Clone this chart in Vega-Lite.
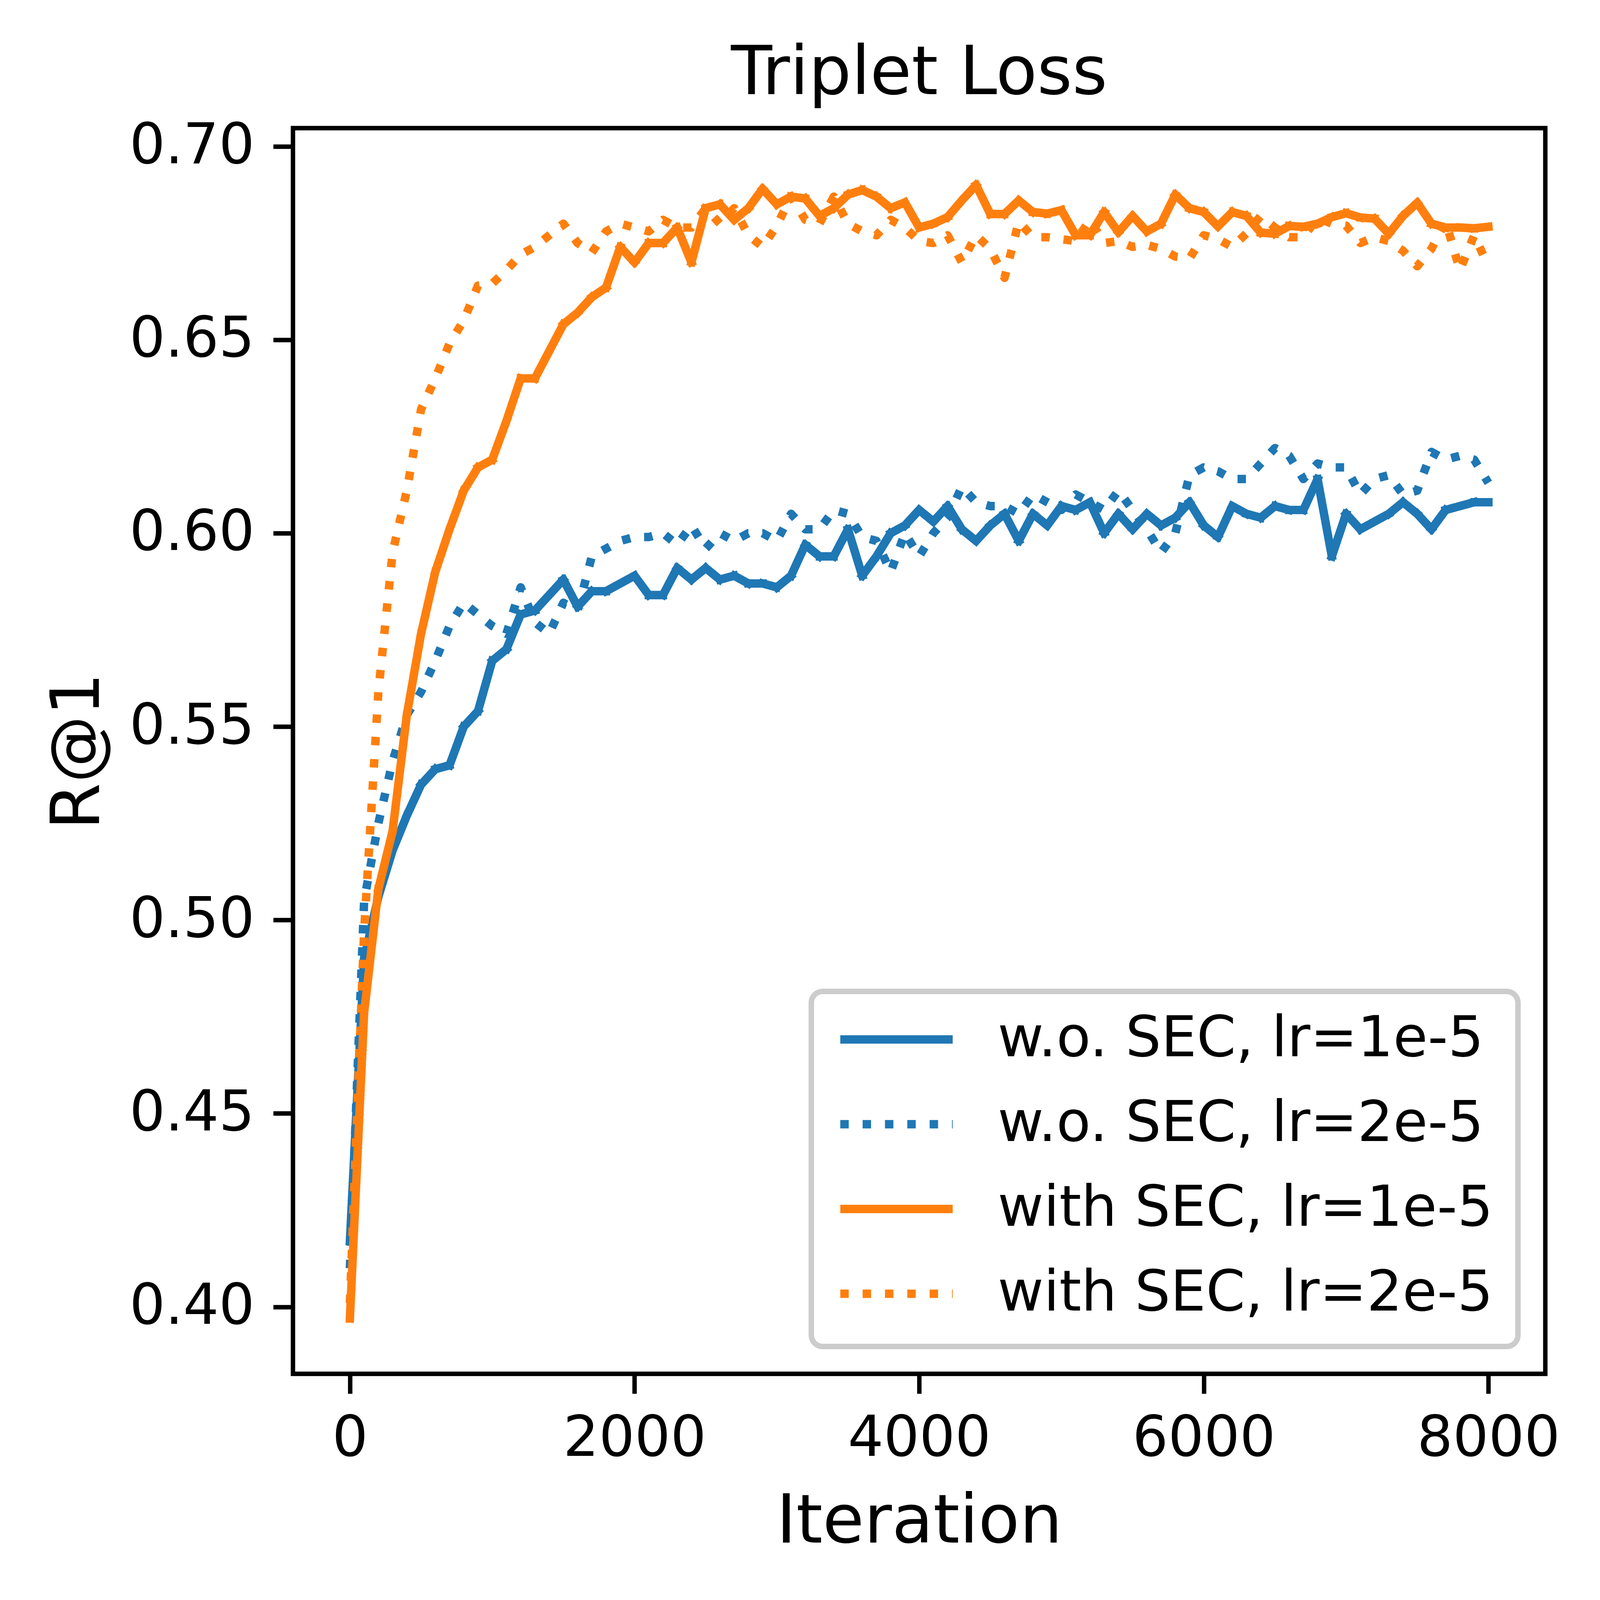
{
  "$schema": "https://vega.github.io/schema/vega-lite/v6.json",
  "description": "Triplet Loss: R@1 against iteration, with and without SEC",
  "autosize": {"type": "none"},
  "width": 3206,
  "height": 3189,
  "padding": {"left": 750, "top": 328, "right": 140, "bottom": 579},
  "background": "white",
  "title": {
    "text": "Triplet Loss",
    "font": "DejaVu Sans",
    "fontSize": 172.6,
    "fontWeight": "normal",
    "color": "black",
    "anchor": "middle",
    "frame": "group",
    "baseline": "alphabetic",
    "offset": -111
  },
  "config": {
    "view": {"stroke": "black", "strokeWidth": 11.3},
    "axis": {
      "grid": false,
      "domain": false,
      "ticks": true,
      "tickColor": "black",
      "tickWidth": 11.3,
      "tickSize": 50.6,
      "labelFont": "DejaVu Sans",
      "labelFontSize": 143.9,
      "labelColor": "black",
      "labelLimit": 2000,
      "titleFont": "DejaVu Sans",
      "titleFontSize": 172.6,
      "titleFontWeight": "normal",
      "titleColor": "black",
      "titleLimit": 3000
    },
    "legend": {
      "orient": "bottom-right",
      "offset": 70,
      "padding": 63,
      "fillColor": "white",
      "strokeColor": "#cccccc",
      "strokeWidth": 14,
      "cornerRadius": 29,
      "symbolType": "stroke",
      "symbolSize": 82775,
      "symbolStrokeWidth": 21.58,
      "symbolOffset": 0,
      "labelFont": "DejaVu Sans",
      "labelFontSize": 143.9,
      "labelColor": "black",
      "labelOffset": 104,
      "labelLimit": 3000,
      "clipHeight": 120,
      "rowPadding": 73
    }
  },
  "data": {
    "values": [
      {"it": 0, "series": "w.o. SEC, lr=1e-5", "r1": 0.417},
      {"it": 100, "series": "w.o. SEC, lr=1e-5", "r1": 0.490},
      {"it": 200, "series": "w.o. SEC, lr=1e-5", "r1": 0.506},
      {"it": 300, "series": "w.o. SEC, lr=1e-5", "r1": 0.518},
      {"it": 400, "series": "w.o. SEC, lr=1e-5", "r1": 0.527},
      {"it": 500, "series": "w.o. SEC, lr=1e-5", "r1": 0.535},
      {"it": 600, "series": "w.o. SEC, lr=1e-5", "r1": 0.539},
      {"it": 700, "series": "w.o. SEC, lr=1e-5", "r1": 0.540},
      {"it": 800, "series": "w.o. SEC, lr=1e-5", "r1": 0.550},
      {"it": 900, "series": "w.o. SEC, lr=1e-5", "r1": 0.554},
      {"it": 1000, "series": "w.o. SEC, lr=1e-5", "r1": 0.567},
      {"it": 1100, "series": "w.o. SEC, lr=1e-5", "r1": 0.570},
      {"it": 1200, "series": "w.o. SEC, lr=1e-5", "r1": 0.579},
      {"it": 1300, "series": "w.o. SEC, lr=1e-5", "r1": 0.580},
      {"it": 1400, "series": "w.o. SEC, lr=1e-5", "r1": 0.584},
      {"it": 1500, "series": "w.o. SEC, lr=1e-5", "r1": 0.588},
      {"it": 1600, "series": "w.o. SEC, lr=1e-5", "r1": 0.581},
      {"it": 1700, "series": "w.o. SEC, lr=1e-5", "r1": 0.585},
      {"it": 1800, "series": "w.o. SEC, lr=1e-5", "r1": 0.585},
      {"it": 1900, "series": "w.o. SEC, lr=1e-5", "r1": 0.587},
      {"it": 2000, "series": "w.o. SEC, lr=1e-5", "r1": 0.589},
      {"it": 2100, "series": "w.o. SEC, lr=1e-5", "r1": 0.584},
      {"it": 2200, "series": "w.o. SEC, lr=1e-5", "r1": 0.584},
      {"it": 2300, "series": "w.o. SEC, lr=1e-5", "r1": 0.591},
      {"it": 2400, "series": "w.o. SEC, lr=1e-5", "r1": 0.588},
      {"it": 2500, "series": "w.o. SEC, lr=1e-5", "r1": 0.591},
      {"it": 2600, "series": "w.o. SEC, lr=1e-5", "r1": 0.588},
      {"it": 2700, "series": "w.o. SEC, lr=1e-5", "r1": 0.589},
      {"it": 2800, "series": "w.o. SEC, lr=1e-5", "r1": 0.587},
      {"it": 2900, "series": "w.o. SEC, lr=1e-5", "r1": 0.587},
      {"it": 3000, "series": "w.o. SEC, lr=1e-5", "r1": 0.586},
      {"it": 3100, "series": "w.o. SEC, lr=1e-5", "r1": 0.589},
      {"it": 3200, "series": "w.o. SEC, lr=1e-5", "r1": 0.597},
      {"it": 3300, "series": "w.o. SEC, lr=1e-5", "r1": 0.594},
      {"it": 3400, "series": "w.o. SEC, lr=1e-5", "r1": 0.594},
      {"it": 3500, "series": "w.o. SEC, lr=1e-5", "r1": 0.601},
      {"it": 3600, "series": "w.o. SEC, lr=1e-5", "r1": 0.589},
      {"it": 3700, "series": "w.o. SEC, lr=1e-5", "r1": 0.594},
      {"it": 3800, "series": "w.o. SEC, lr=1e-5", "r1": 0.600},
      {"it": 3900, "series": "w.o. SEC, lr=1e-5", "r1": 0.602},
      {"it": 4000, "series": "w.o. SEC, lr=1e-5", "r1": 0.606},
      {"it": 4100, "series": "w.o. SEC, lr=1e-5", "r1": 0.603},
      {"it": 4200, "series": "w.o. SEC, lr=1e-5", "r1": 0.607},
      {"it": 4300, "series": "w.o. SEC, lr=1e-5", "r1": 0.601},
      {"it": 4400, "series": "w.o. SEC, lr=1e-5", "r1": 0.598},
      {"it": 4500, "series": "w.o. SEC, lr=1e-5", "r1": 0.602},
      {"it": 4600, "series": "w.o. SEC, lr=1e-5", "r1": 0.605},
      {"it": 4700, "series": "w.o. SEC, lr=1e-5", "r1": 0.598},
      {"it": 4800, "series": "w.o. SEC, lr=1e-5", "r1": 0.605},
      {"it": 4900, "series": "w.o. SEC, lr=1e-5", "r1": 0.602},
      {"it": 5000, "series": "w.o. SEC, lr=1e-5", "r1": 0.607},
      {"it": 5100, "series": "w.o. SEC, lr=1e-5", "r1": 0.606},
      {"it": 5200, "series": "w.o. SEC, lr=1e-5", "r1": 0.608},
      {"it": 5300, "series": "w.o. SEC, lr=1e-5", "r1": 0.600},
      {"it": 5400, "series": "w.o. SEC, lr=1e-5", "r1": 0.605},
      {"it": 5500, "series": "w.o. SEC, lr=1e-5", "r1": 0.601},
      {"it": 5600, "series": "w.o. SEC, lr=1e-5", "r1": 0.605},
      {"it": 5700, "series": "w.o. SEC, lr=1e-5", "r1": 0.602},
      {"it": 5800, "series": "w.o. SEC, lr=1e-5", "r1": 0.604},
      {"it": 5900, "series": "w.o. SEC, lr=1e-5", "r1": 0.608},
      {"it": 6000, "series": "w.o. SEC, lr=1e-5", "r1": 0.602},
      {"it": 6100, "series": "w.o. SEC, lr=1e-5", "r1": 0.599},
      {"it": 6200, "series": "w.o. SEC, lr=1e-5", "r1": 0.607},
      {"it": 6300, "series": "w.o. SEC, lr=1e-5", "r1": 0.605},
      {"it": 6400, "series": "w.o. SEC, lr=1e-5", "r1": 0.604},
      {"it": 6500, "series": "w.o. SEC, lr=1e-5", "r1": 0.607},
      {"it": 6600, "series": "w.o. SEC, lr=1e-5", "r1": 0.606},
      {"it": 6700, "series": "w.o. SEC, lr=1e-5", "r1": 0.606},
      {"it": 6800, "series": "w.o. SEC, lr=1e-5", "r1": 0.614},
      {"it": 6900, "series": "w.o. SEC, lr=1e-5", "r1": 0.594},
      {"it": 7000, "series": "w.o. SEC, lr=1e-5", "r1": 0.605},
      {"it": 7100, "series": "w.o. SEC, lr=1e-5", "r1": 0.601},
      {"it": 7200, "series": "w.o. SEC, lr=1e-5", "r1": 0.603},
      {"it": 7300, "series": "w.o. SEC, lr=1e-5", "r1": 0.605},
      {"it": 7400, "series": "w.o. SEC, lr=1e-5", "r1": 0.608},
      {"it": 7500, "series": "w.o. SEC, lr=1e-5", "r1": 0.605},
      {"it": 7600, "series": "w.o. SEC, lr=1e-5", "r1": 0.601},
      {"it": 7700, "series": "w.o. SEC, lr=1e-5", "r1": 0.606},
      {"it": 7800, "series": "w.o. SEC, lr=1e-5", "r1": 0.607},
      {"it": 7900, "series": "w.o. SEC, lr=1e-5", "r1": 0.608},
      {"it": 8000, "series": "w.o. SEC, lr=1e-5", "r1": 0.608},

      {"it": 0, "series": "w.o. SEC, lr=2e-5", "r1": 0.410},
      {"it": 100, "series": "w.o. SEC, lr=2e-5", "r1": 0.505},
      {"it": 200, "series": "w.o. SEC, lr=2e-5", "r1": 0.525},
      {"it": 300, "series": "w.o. SEC, lr=2e-5", "r1": 0.541},
      {"it": 400, "series": "w.o. SEC, lr=2e-5", "r1": 0.553},
      {"it": 500, "series": "w.o. SEC, lr=2e-5", "r1": 0.559},
      {"it": 600, "series": "w.o. SEC, lr=2e-5", "r1": 0.567},
      {"it": 700, "series": "w.o. SEC, lr=2e-5", "r1": 0.576},
      {"it": 800, "series": "w.o. SEC, lr=2e-5", "r1": 0.582},
      {"it": 900, "series": "w.o. SEC, lr=2e-5", "r1": 0.579},
      {"it": 1000, "series": "w.o. SEC, lr=2e-5", "r1": 0.576},
      {"it": 1100, "series": "w.o. SEC, lr=2e-5", "r1": 0.574},
      {"it": 1200, "series": "w.o. SEC, lr=2e-5", "r1": 0.586},
      {"it": 1300, "series": "w.o. SEC, lr=2e-5", "r1": 0.577},
      {"it": 1400, "series": "w.o. SEC, lr=2e-5", "r1": 0.574},
      {"it": 1500, "series": "w.o. SEC, lr=2e-5", "r1": 0.582},
      {"it": 1600, "series": "w.o. SEC, lr=2e-5", "r1": 0.580},
      {"it": 1700, "series": "w.o. SEC, lr=2e-5", "r1": 0.594},
      {"it": 1800, "series": "w.o. SEC, lr=2e-5", "r1": 0.596},
      {"it": 1900, "series": "w.o. SEC, lr=2e-5", "r1": 0.598},
      {"it": 2000, "series": "w.o. SEC, lr=2e-5", "r1": 0.599},
      {"it": 2100, "series": "w.o. SEC, lr=2e-5", "r1": 0.599},
      {"it": 2200, "series": "w.o. SEC, lr=2e-5", "r1": 0.600},
      {"it": 2300, "series": "w.o. SEC, lr=2e-5", "r1": 0.597},
      {"it": 2400, "series": "w.o. SEC, lr=2e-5", "r1": 0.602},
      {"it": 2500, "series": "w.o. SEC, lr=2e-5", "r1": 0.596},
      {"it": 2600, "series": "w.o. SEC, lr=2e-5", "r1": 0.600},
      {"it": 2700, "series": "w.o. SEC, lr=2e-5", "r1": 0.598},
      {"it": 2800, "series": "w.o. SEC, lr=2e-5", "r1": 0.600},
      {"it": 2900, "series": "w.o. SEC, lr=2e-5", "r1": 0.600},
      {"it": 3000, "series": "w.o. SEC, lr=2e-5", "r1": 0.598},
      {"it": 3100, "series": "w.o. SEC, lr=2e-5", "r1": 0.605},
      {"it": 3200, "series": "w.o. SEC, lr=2e-5", "r1": 0.601},
      {"it": 3300, "series": "w.o. SEC, lr=2e-5", "r1": 0.601},
      {"it": 3400, "series": "w.o. SEC, lr=2e-5", "r1": 0.606},
      {"it": 3500, "series": "w.o. SEC, lr=2e-5", "r1": 0.605},
      {"it": 3600, "series": "w.o. SEC, lr=2e-5", "r1": 0.599},
      {"it": 3700, "series": "w.o. SEC, lr=2e-5", "r1": 0.598},
      {"it": 3800, "series": "w.o. SEC, lr=2e-5", "r1": 0.590},
      {"it": 3900, "series": "w.o. SEC, lr=2e-5", "r1": 0.600},
      {"it": 4000, "series": "w.o. SEC, lr=2e-5", "r1": 0.594},
      {"it": 4100, "series": "w.o. SEC, lr=2e-5", "r1": 0.600},
      {"it": 4200, "series": "w.o. SEC, lr=2e-5", "r1": 0.604},
      {"it": 4300, "series": "w.o. SEC, lr=2e-5", "r1": 0.612},
      {"it": 4400, "series": "w.o. SEC, lr=2e-5", "r1": 0.608},
      {"it": 4500, "series": "w.o. SEC, lr=2e-5", "r1": 0.607},
      {"it": 4600, "series": "w.o. SEC, lr=2e-5", "r1": 0.607},
      {"it": 4700, "series": "w.o. SEC, lr=2e-5", "r1": 0.605},
      {"it": 4800, "series": "w.o. SEC, lr=2e-5", "r1": 0.610},
      {"it": 4900, "series": "w.o. SEC, lr=2e-5", "r1": 0.608},
      {"it": 5000, "series": "w.o. SEC, lr=2e-5", "r1": 0.606},
      {"it": 5100, "series": "w.o. SEC, lr=2e-5", "r1": 0.610},
      {"it": 5200, "series": "w.o. SEC, lr=2e-5", "r1": 0.608},
      {"it": 5300, "series": "w.o. SEC, lr=2e-5", "r1": 0.606},
      {"it": 5400, "series": "w.o. SEC, lr=2e-5", "r1": 0.611},
      {"it": 5500, "series": "w.o. SEC, lr=2e-5", "r1": 0.606},
      {"it": 5600, "series": "w.o. SEC, lr=2e-5", "r1": 0.601},
      {"it": 5700, "series": "w.o. SEC, lr=2e-5", "r1": 0.595},
      {"it": 5800, "series": "w.o. SEC, lr=2e-5", "r1": 0.600},
      {"it": 5900, "series": "w.o. SEC, lr=2e-5", "r1": 0.615},
      {"it": 6000, "series": "w.o. SEC, lr=2e-5", "r1": 0.617},
      {"it": 6100, "series": "w.o. SEC, lr=2e-5", "r1": 0.616},
      {"it": 6200, "series": "w.o. SEC, lr=2e-5", "r1": 0.614},
      {"it": 6300, "series": "w.o. SEC, lr=2e-5", "r1": 0.614},
      {"it": 6400, "series": "w.o. SEC, lr=2e-5", "r1": 0.618},
      {"it": 6500, "series": "w.o. SEC, lr=2e-5", "r1": 0.622},
      {"it": 6600, "series": "w.o. SEC, lr=2e-5", "r1": 0.620},
      {"it": 6700, "series": "w.o. SEC, lr=2e-5", "r1": 0.614},
      {"it": 6800, "series": "w.o. SEC, lr=2e-5", "r1": 0.618},
      {"it": 6900, "series": "w.o. SEC, lr=2e-5", "r1": 0.617},
      {"it": 7000, "series": "w.o. SEC, lr=2e-5", "r1": 0.617},
      {"it": 7100, "series": "w.o. SEC, lr=2e-5", "r1": 0.610},
      {"it": 7200, "series": "w.o. SEC, lr=2e-5", "r1": 0.614},
      {"it": 7300, "series": "w.o. SEC, lr=2e-5", "r1": 0.615},
      {"it": 7400, "series": "w.o. SEC, lr=2e-5", "r1": 0.610},
      {"it": 7500, "series": "w.o. SEC, lr=2e-5", "r1": 0.611},
      {"it": 7600, "series": "w.o. SEC, lr=2e-5", "r1": 0.621},
      {"it": 7700, "series": "w.o. SEC, lr=2e-5", "r1": 0.619},
      {"it": 7800, "series": "w.o. SEC, lr=2e-5", "r1": 0.620},
      {"it": 7900, "series": "w.o. SEC, lr=2e-5", "r1": 0.619},
      {"it": 8000, "series": "w.o. SEC, lr=2e-5", "r1": 0.613},

      {"it": 0, "series": "with SEC, lr=1e-5", "r1": 0.397},
      {"it": 100, "series": "with SEC, lr=1e-5", "r1": 0.476},
      {"it": 200, "series": "with SEC, lr=1e-5", "r1": 0.508},
      {"it": 300, "series": "with SEC, lr=1e-5", "r1": 0.523},
      {"it": 400, "series": "with SEC, lr=1e-5", "r1": 0.553},
      {"it": 500, "series": "with SEC, lr=1e-5", "r1": 0.574},
      {"it": 600, "series": "with SEC, lr=1e-5", "r1": 0.590},
      {"it": 700, "series": "with SEC, lr=1e-5", "r1": 0.601},
      {"it": 800, "series": "with SEC, lr=1e-5", "r1": 0.611},
      {"it": 900, "series": "with SEC, lr=1e-5", "r1": 0.617},
      {"it": 1000, "series": "with SEC, lr=1e-5", "r1": 0.619},
      {"it": 1100, "series": "with SEC, lr=1e-5", "r1": 0.629},
      {"it": 1200, "series": "with SEC, lr=1e-5", "r1": 0.640},
      {"it": 1300, "series": "with SEC, lr=1e-5", "r1": 0.640},
      {"it": 1400, "series": "with SEC, lr=1e-5", "r1": 0.647},
      {"it": 1500, "series": "with SEC, lr=1e-5", "r1": 0.654},
      {"it": 1600, "series": "with SEC, lr=1e-5", "r1": 0.657},
      {"it": 1700, "series": "with SEC, lr=1e-5", "r1": 0.661},
      {"it": 1800, "series": "with SEC, lr=1e-5", "r1": 0.6635},
      {"it": 1900, "series": "with SEC, lr=1e-5", "r1": 0.674},
      {"it": 2000, "series": "with SEC, lr=1e-5", "r1": 0.670},
      {"it": 2100, "series": "with SEC, lr=1e-5", "r1": 0.675},
      {"it": 2200, "series": "with SEC, lr=1e-5", "r1": 0.675},
      {"it": 2300, "series": "with SEC, lr=1e-5", "r1": 0.679},
      {"it": 2400, "series": "with SEC, lr=1e-5", "r1": 0.670},
      {"it": 2500, "series": "with SEC, lr=1e-5", "r1": 0.684},
      {"it": 2600, "series": "with SEC, lr=1e-5", "r1": 0.685},
      {"it": 2700, "series": "with SEC, lr=1e-5", "r1": 0.681},
      {"it": 2800, "series": "with SEC, lr=1e-5", "r1": 0.684},
      {"it": 2900, "series": "with SEC, lr=1e-5", "r1": 0.689},
      {"it": 3000, "series": "with SEC, lr=1e-5", "r1": 0.685},
      {"it": 3100, "series": "with SEC, lr=1e-5", "r1": 0.687},
      {"it": 3200, "series": "with SEC, lr=1e-5", "r1": 0.6865},
      {"it": 3300, "series": "with SEC, lr=1e-5", "r1": 0.682},
      {"it": 3400, "series": "with SEC, lr=1e-5", "r1": 0.684},
      {"it": 3500, "series": "with SEC, lr=1e-5", "r1": 0.6875},
      {"it": 3600, "series": "with SEC, lr=1e-5", "r1": 0.6887},
      {"it": 3700, "series": "with SEC, lr=1e-5", "r1": 0.687},
      {"it": 3800, "series": "with SEC, lr=1e-5", "r1": 0.684},
      {"it": 3900, "series": "with SEC, lr=1e-5", "r1": 0.6855},
      {"it": 4000, "series": "with SEC, lr=1e-5", "r1": 0.679},
      {"it": 4100, "series": "with SEC, lr=1e-5", "r1": 0.680},
      {"it": 4200, "series": "with SEC, lr=1e-5", "r1": 0.6817},
      {"it": 4300, "series": "with SEC, lr=1e-5", "r1": 0.686},
      {"it": 4400, "series": "with SEC, lr=1e-5", "r1": 0.690},
      {"it": 4500, "series": "with SEC, lr=1e-5", "r1": 0.6825},
      {"it": 4600, "series": "with SEC, lr=1e-5", "r1": 0.6825},
      {"it": 4700, "series": "with SEC, lr=1e-5", "r1": 0.686},
      {"it": 4800, "series": "with SEC, lr=1e-5", "r1": 0.683},
      {"it": 4900, "series": "with SEC, lr=1e-5", "r1": 0.6826},
      {"it": 5000, "series": "with SEC, lr=1e-5", "r1": 0.6835},
      {"it": 5100, "series": "with SEC, lr=1e-5", "r1": 0.677},
      {"it": 5200, "series": "with SEC, lr=1e-5", "r1": 0.677},
      {"it": 5300, "series": "with SEC, lr=1e-5", "r1": 0.683},
      {"it": 5400, "series": "with SEC, lr=1e-5", "r1": 0.6778},
      {"it": 5500, "series": "with SEC, lr=1e-5", "r1": 0.682},
      {"it": 5600, "series": "with SEC, lr=1e-5", "r1": 0.678},
      {"it": 5700, "series": "with SEC, lr=1e-5", "r1": 0.680},
      {"it": 5800, "series": "with SEC, lr=1e-5", "r1": 0.6875},
      {"it": 5900, "series": "with SEC, lr=1e-5", "r1": 0.684},
      {"it": 6000, "series": "with SEC, lr=1e-5", "r1": 0.683},
      {"it": 6100, "series": "with SEC, lr=1e-5", "r1": 0.6793},
      {"it": 6200, "series": "with SEC, lr=1e-5", "r1": 0.683},
      {"it": 6300, "series": "with SEC, lr=1e-5", "r1": 0.682},
      {"it": 6400, "series": "with SEC, lr=1e-5", "r1": 0.6777},
      {"it": 6500, "series": "with SEC, lr=1e-5", "r1": 0.6774},
      {"it": 6600, "series": "with SEC, lr=1e-5", "r1": 0.6794},
      {"it": 6700, "series": "with SEC, lr=1e-5", "r1": 0.6792},
      {"it": 6800, "series": "with SEC, lr=1e-5", "r1": 0.680},
      {"it": 6900, "series": "with SEC, lr=1e-5", "r1": 0.6817},
      {"it": 7000, "series": "with SEC, lr=1e-5", "r1": 0.6827},
      {"it": 7100, "series": "with SEC, lr=1e-5", "r1": 0.6816},
      {"it": 7200, "series": "with SEC, lr=1e-5", "r1": 0.6813},
      {"it": 7300, "series": "with SEC, lr=1e-5", "r1": 0.6774},
      {"it": 7400, "series": "with SEC, lr=1e-5", "r1": 0.682},
      {"it": 7500, "series": "with SEC, lr=1e-5", "r1": 0.6854},
      {"it": 7600, "series": "with SEC, lr=1e-5", "r1": 0.680},
      {"it": 7700, "series": "with SEC, lr=1e-5", "r1": 0.679},
      {"it": 7800, "series": "with SEC, lr=1e-5", "r1": 0.679},
      {"it": 7900, "series": "with SEC, lr=1e-5", "r1": 0.6788},
      {"it": 8000, "series": "with SEC, lr=1e-5", "r1": 0.6792},

      {"it": 0, "series": "with SEC, lr=2e-5", "r1": 0.401},
      {"it": 100, "series": "with SEC, lr=2e-5", "r1": 0.497},
      {"it": 200, "series": "with SEC, lr=2e-5", "r1": 0.559},
      {"it": 300, "series": "with SEC, lr=2e-5", "r1": 0.595},
      {"it": 400, "series": "with SEC, lr=2e-5", "r1": 0.611},
      {"it": 500, "series": "with SEC, lr=2e-5", "r1": 0.632},
      {"it": 600, "series": "with SEC, lr=2e-5", "r1": 0.640},
      {"it": 700, "series": "with SEC, lr=2e-5", "r1": 0.649},
      {"it": 800, "series": "with SEC, lr=2e-5", "r1": 0.655},
      {"it": 900, "series": "with SEC, lr=2e-5", "r1": 0.664},
      {"it": 1000, "series": "with SEC, lr=2e-5", "r1": 0.6645},
      {"it": 1100, "series": "with SEC, lr=2e-5", "r1": 0.668},
      {"it": 1200, "series": "with SEC, lr=2e-5", "r1": 0.672},
      {"it": 1300, "series": "with SEC, lr=2e-5", "r1": 0.674},
      {"it": 1400, "series": "with SEC, lr=2e-5", "r1": 0.677},
      {"it": 1500, "series": "with SEC, lr=2e-5", "r1": 0.680},
      {"it": 1600, "series": "with SEC, lr=2e-5", "r1": 0.675},
      {"it": 1700, "series": "with SEC, lr=2e-5", "r1": 0.6725},
      {"it": 1800, "series": "with SEC, lr=2e-5", "r1": 0.678},
      {"it": 1900, "series": "with SEC, lr=2e-5", "r1": 0.680},
      {"it": 2000, "series": "with SEC, lr=2e-5", "r1": 0.679},
      {"it": 2100, "series": "with SEC, lr=2e-5", "r1": 0.678},
      {"it": 2200, "series": "with SEC, lr=2e-5", "r1": 0.681},
      {"it": 2300, "series": "with SEC, lr=2e-5", "r1": 0.679},
      {"it": 2400, "series": "with SEC, lr=2e-5", "r1": 0.679},
      {"it": 2500, "series": "with SEC, lr=2e-5", "r1": 0.684},
      {"it": 2600, "series": "with SEC, lr=2e-5", "r1": 0.680},
      {"it": 2700, "series": "with SEC, lr=2e-5", "r1": 0.684},
      {"it": 2800, "series": "with SEC, lr=2e-5", "r1": 0.677},
      {"it": 2900, "series": "with SEC, lr=2e-5", "r1": 0.674},
      {"it": 3000, "series": "with SEC, lr=2e-5", "r1": 0.6795},
      {"it": 3100, "series": "with SEC, lr=2e-5", "r1": 0.687},
      {"it": 3200, "series": "with SEC, lr=2e-5", "r1": 0.681},
      {"it": 3300, "series": "with SEC, lr=2e-5", "r1": 0.680},
      {"it": 3400, "series": "with SEC, lr=2e-5", "r1": 0.687},
      {"it": 3500, "series": "with SEC, lr=2e-5", "r1": 0.680},
      {"it": 3600, "series": "with SEC, lr=2e-5", "r1": 0.678},
      {"it": 3700, "series": "with SEC, lr=2e-5", "r1": 0.677},
      {"it": 3800, "series": "with SEC, lr=2e-5", "r1": 0.681},
      {"it": 3900, "series": "with SEC, lr=2e-5", "r1": 0.679},
      {"it": 4000, "series": "with SEC, lr=2e-5", "r1": 0.6755},
      {"it": 4100, "series": "with SEC, lr=2e-5", "r1": 0.675},
      {"it": 4200, "series": "with SEC, lr=2e-5", "r1": 0.677},
      {"it": 4300, "series": "with SEC, lr=2e-5", "r1": 0.670},
      {"it": 4400, "series": "with SEC, lr=2e-5", "r1": 0.677},
      {"it": 4500, "series": "with SEC, lr=2e-5", "r1": 0.6735},
      {"it": 4600, "series": "with SEC, lr=2e-5", "r1": 0.666},
      {"it": 4700, "series": "with SEC, lr=2e-5", "r1": 0.6805},
      {"it": 4800, "series": "with SEC, lr=2e-5", "r1": 0.6765},
      {"it": 4900, "series": "with SEC, lr=2e-5", "r1": 0.6765},
      {"it": 5000, "series": "with SEC, lr=2e-5", "r1": 0.676},
      {"it": 5100, "series": "with SEC, lr=2e-5", "r1": 0.6755},
      {"it": 5200, "series": "with SEC, lr=2e-5", "r1": 0.681},
      {"it": 5300, "series": "with SEC, lr=2e-5", "r1": 0.675},
      {"it": 5400, "series": "with SEC, lr=2e-5", "r1": 0.6755},
      {"it": 5500, "series": "with SEC, lr=2e-5", "r1": 0.674},
      {"it": 5600, "series": "with SEC, lr=2e-5", "r1": 0.6745},
      {"it": 5700, "series": "with SEC, lr=2e-5", "r1": 0.6735},
      {"it": 5800, "series": "with SEC, lr=2e-5", "r1": 0.6715},
      {"it": 5900, "series": "with SEC, lr=2e-5", "r1": 0.671},
      {"it": 6000, "series": "with SEC, lr=2e-5", "r1": 0.677},
      {"it": 6100, "series": "with SEC, lr=2e-5", "r1": 0.676},
      {"it": 6200, "series": "with SEC, lr=2e-5", "r1": 0.674},
      {"it": 6300, "series": "with SEC, lr=2e-5", "r1": 0.6775},
      {"it": 6400, "series": "with SEC, lr=2e-5", "r1": 0.682},
      {"it": 6500, "series": "with SEC, lr=2e-5", "r1": 0.679},
      {"it": 6600, "series": "with SEC, lr=2e-5", "r1": 0.6765},
      {"it": 6700, "series": "with SEC, lr=2e-5", "r1": 0.6765},
      {"it": 6800, "series": "with SEC, lr=2e-5", "r1": 0.6815},
      {"it": 6900, "series": "with SEC, lr=2e-5", "r1": 0.680},
      {"it": 7000, "series": "with SEC, lr=2e-5", "r1": 0.6795},
      {"it": 7100, "series": "with SEC, lr=2e-5", "r1": 0.675},
      {"it": 7200, "series": "with SEC, lr=2e-5", "r1": 0.6765},
      {"it": 7300, "series": "with SEC, lr=2e-5", "r1": 0.6755},
      {"it": 7400, "series": "with SEC, lr=2e-5", "r1": 0.673},
      {"it": 7500, "series": "with SEC, lr=2e-5", "r1": 0.669},
      {"it": 7600, "series": "with SEC, lr=2e-5", "r1": 0.6735},
      {"it": 7700, "series": "with SEC, lr=2e-5", "r1": 0.6805},
      {"it": 7800, "series": "with SEC, lr=2e-5", "r1": 0.668},
      {"it": 7900, "series": "with SEC, lr=2e-5", "r1": 0.677},
      {"it": 8000, "series": "with SEC, lr=2e-5", "r1": 0.669}
    ]
  },
  "encoding": {
    "x": {
      "field": "it",
      "type": "quantitative",
      "scale": {"domain": [-400, 8400], "nice": false, "zero": false},
      "axis": {"title": "Iteration", "values": [0, 2000, 4000, 6000, 8000], "format": "d", "labelPadding": 45, "titlePadding": 95}
    },
    "y": {
      "field": "r1",
      "type": "quantitative",
      "scale": {"domain": [0.3827, 0.7047], "nice": false, "zero": false},
      "axis": {"title": "R@1", "values": [0.4, 0.45, 0.5, 0.55, 0.6, 0.65, 0.7], "format": ".2f", "labelPadding": 48, "titlePadding": 262}
    },
    "color": {
      "field": "series",
      "type": "nominal",
      "scale": {
        "domain": ["w.o. SEC, lr=1e-5", "w.o. SEC, lr=2e-5", "with SEC, lr=1e-5", "with SEC, lr=2e-5"],
        "range": ["#1f77b4", "#1f77b4", "#ff7f0e", "#ff7f0e"]
      },
      "legend": {"title": null}
    },
    "strokeDash": {
      "field": "series",
      "type": "nominal",
      "scale": {
        "domain": ["w.o. SEC, lr=1e-5", "w.o. SEC, lr=2e-5", "with SEC, lr=1e-5", "with SEC, lr=2e-5"],
        "range": [[1, 0], [21.58, 35.6], [1, 0], [21.58, 35.6]]
      },
      "legend": {"title": null}
    }
  },
  "layer": [
    {
      "transform": [{"filter": {"field": "series", "equal": "w.o. SEC, lr=1e-5"}}],
      "mark": {"type": "line", "strokeWidth": 21.58, "strokeCap": "square", "strokeJoin": "round"}
    },
    {
      "transform": [{"filter": {"field": "series", "equal": "w.o. SEC, lr=2e-5"}}],
      "mark": {"type": "line", "strokeWidth": 21.58, "strokeCap": "butt", "strokeJoin": "round"}
    },
    {
      "transform": [{"filter": {"field": "series", "equal": "with SEC, lr=1e-5"}}],
      "mark": {"type": "line", "strokeWidth": 21.58, "strokeCap": "square", "strokeJoin": "round"}
    },
    {
      "transform": [{"filter": {"field": "series", "equal": "with SEC, lr=2e-5"}}],
      "mark": {"type": "line", "strokeWidth": 21.58, "strokeCap": "butt", "strokeJoin": "round"}
    }
  ]
}
